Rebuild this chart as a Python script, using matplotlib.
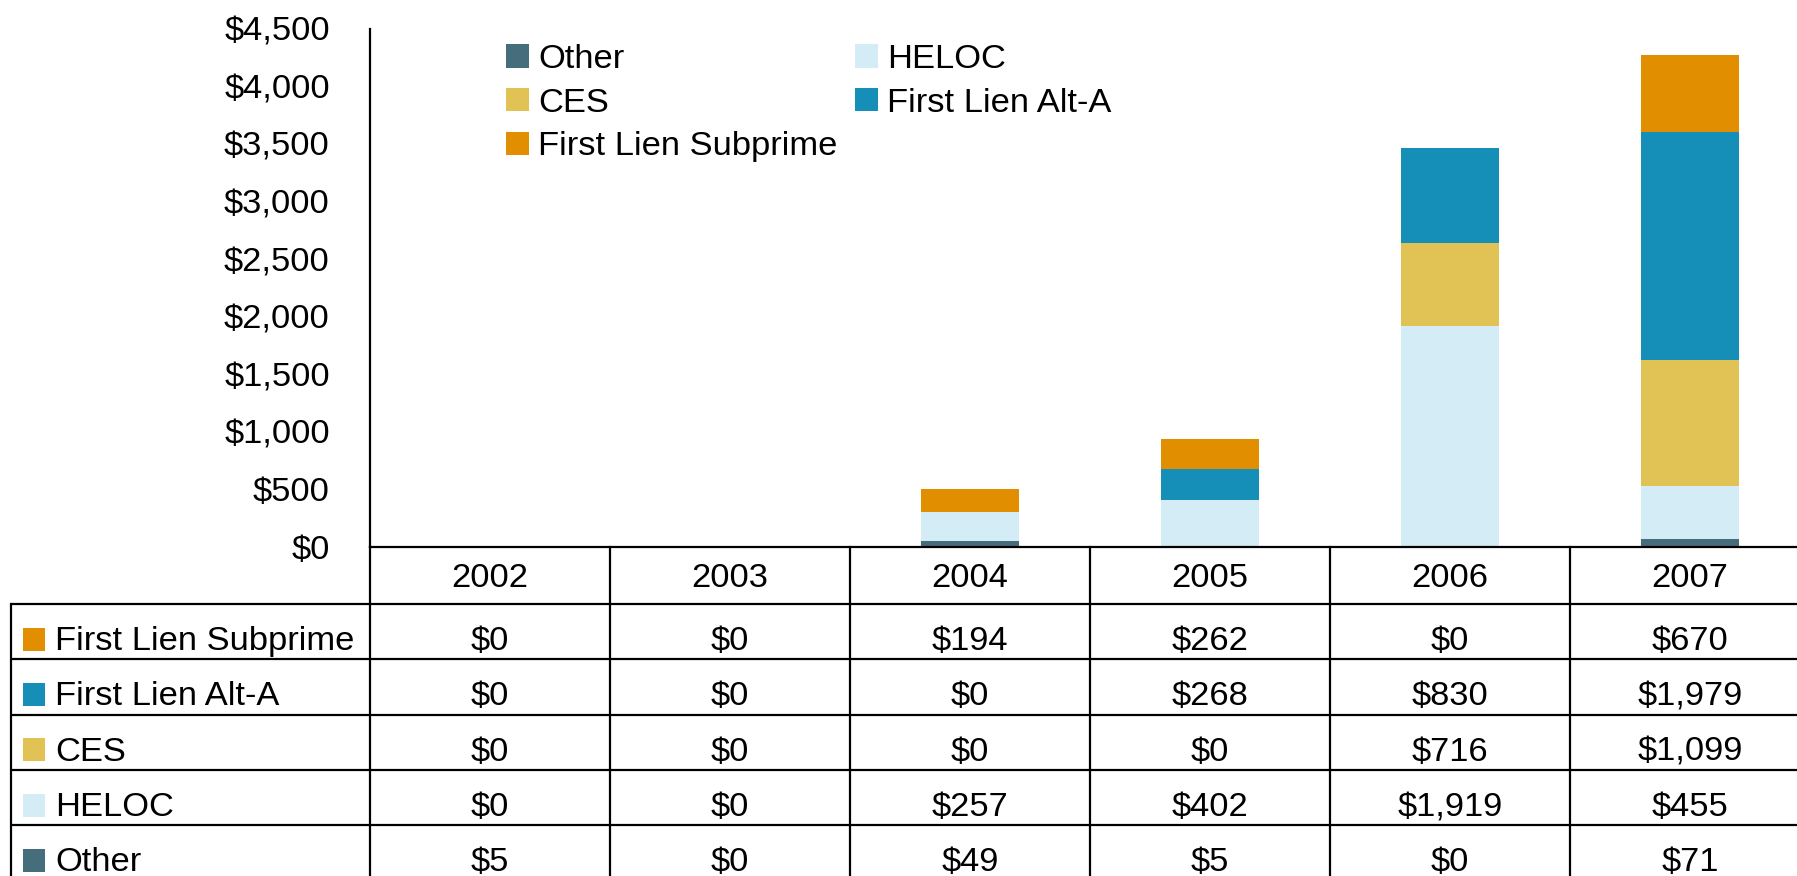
import matplotlib
matplotlib.use("Agg")
import matplotlib.pyplot as plt
from matplotlib.patches import Rectangle

plt.rcParams['font.family'] = ['Liberation Sans', 'DejaVu Sans']

years = ["2002", "2003", "2004", "2005", "2006", "2007"]
other = [5, 0, 49, 5, 0, 71]
heloc = [0, 0, 257, 402, 1919, 455]
ces = [0, 0, 0, 0, 716, 1099]
alt_a = [0, 0, 0, 268, 830, 1979]
subprime = [0, 0, 194, 262, 0, 670]
yticks = [0, 500, 1000, 1500, 2000, 2500, 3000, 3500, 4000, 4500]

stack = [("Other", other, "#466D7B"),
         ("HELOC", heloc, "#D4ECF6"),
         ("CES", ces, "#E0C354"),
         ("First Lien Alt-A", alt_a, "#158FB8"),
         ("First Lien Subprime", subprime, "#E18E00")]

W, H = 1797, 876
FS = 24.8
fig = plt.figure(figsize=(W / 100, H / 100), dpi=100)
ax = fig.add_axes([370 / W, 1 - 547 / H, (1810 - 370) / W, (547 - 28.6) / H])
ax.set_xlim(-0.5, len(years) - 0.5)
ax.set_ylim(0, 4500)

x = list(range(len(years)))
bottom = [0] * len(years)
handles = {}
for name, vals, col in stack:
    b = ax.bar(x, vals, bottom=bottom, width=0.41, color=col, label=name, linewidth=0)
    handles[name] = b
    bottom = [bb + v for bb, v in zip(bottom, vals)]

ax.set_yticks(yticks)
ax.set_yticklabels(["${:,}".format(v) for v in yticks], fontsize=FS)
ax.tick_params(axis='y', length=0, pad=29)
ax.set_xticks([])
for s in ["top", "right"]:
    ax.spines[s].set_visible(False)
ax.spines["left"].set_linewidth(1.6)
ax.spines["bottom"].set_linewidth(1.6)

order = ["Other", "CES", "First Lien Subprime", "HELOC", "First Lien Alt-A"]
leg = ax.legend([handles[n] for n in order], order, ncol=2, frameon=False,
                fontsize=FS, loc="upper left",
                bbox_to_anchor=(506 / W, 1 - 44 / H), bbox_transform=fig.transFigure,
                borderpad=0, borderaxespad=0, handlelength=0.67, handleheight=0.67,
                handletextpad=0.26, columnspacing=0.5, labelspacing=0.37)

# table overlay in pixel coordinates
ov = fig.add_axes([0, 0, 1, 1])
ov.set_xlim(0, W)
ov.set_ylim(H, 0)
ov.axis("off")

xb = [ax.transData.transform((i - 0.5, 0))[0] for i in range(len(years) + 1)]
xc = [ax.transData.transform((i, 0))[0] for i in range(len(years))]
y0 = H - ax.transData.transform((0, 0))[1]
hdr_bot = 604
rh = 55.3
rows = [("First Lien Subprime", subprime, "#E18E00"),
        ("First Lien Alt-A", alt_a, "#158FB8"),
        ("CES", ces, "#E0C354"),
        ("HELOC", heloc, "#D4ECF6"),
        ("Other", other, "#466D7B")]
ybounds = [hdr_bot + k * rh for k in range(len(rows) + 1)]
lw = 1.6
left = 11
for yb in ybounds:
    ov.plot([left, W + 20], [yb, yb], color="black", lw=lw, solid_capstyle="butt")
ov.plot([left, left], [hdr_bot, H + 20], color="black", lw=lw)
for xx in xb:
    ov.plot([xx, xx], [y0, H + 20], color="black", lw=lw)

for xx, yr in zip(xc, years):
    ov.text(xx, (y0 + hdr_bot) / 2 + 3, yr, ha="center", va="center", fontsize=FS)

for r, (name, vals, col) in enumerate(rows):
    yc = (ybounds[r] + ybounds[r + 1]) / 2
    ov.add_patch(Rectangle((23, yc - 4), 22, 23, color=col, lw=0))
    ov.text(55, yc + 10, name, ha="left", va="center", fontsize=FS)
    for xx, v in zip(xc, vals):
        ov.text(xx, yc + 10, "${:,}".format(v), ha="center", va="center", fontsize=FS)

fig.savefig("out.png", dpi=100)
